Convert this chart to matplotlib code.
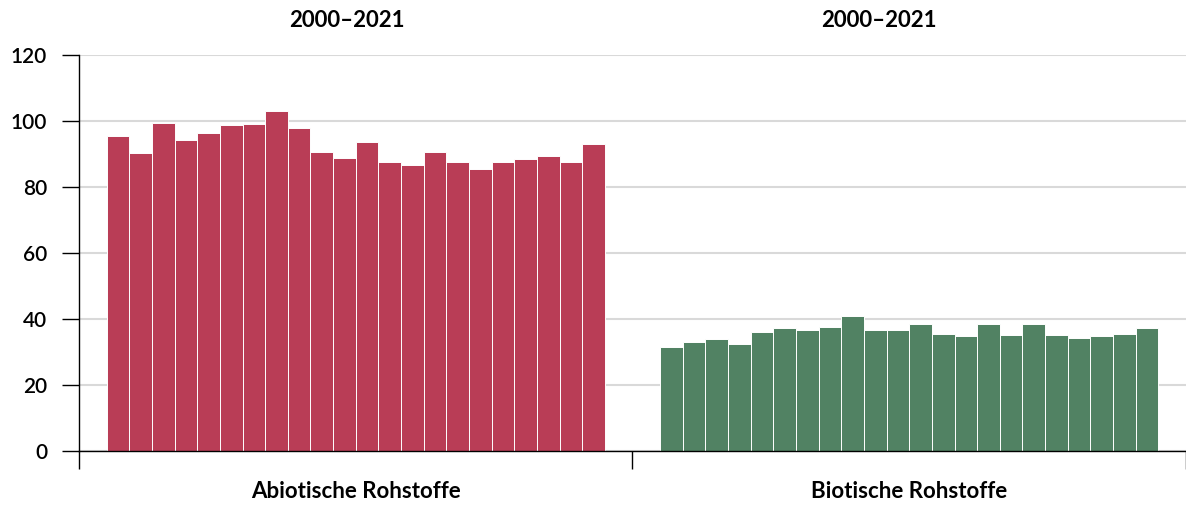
import numpy as np
import matplotlib
matplotlib.use("Agg")
import matplotlib.pyplot as plt

# data (index values, 2000-2021)
years = list(range(2000, 2022))
categories = ["Abiotische Rohstoffe", "Biotische Rohstoffe"]
period_labels = ["2000\u20132021", "2000\u20132021"]
abiotic = [95.5, 90.2, 99.5, 94.4, 96.4, 98.7, 99.1, 103.0, 97.9, 90.5, 88.8,
           93.6, 87.5, 86.7, 90.5, 87.7, 85.5, 87.5, 88.6, 89.3, 87.5, 93.1]
biotic = [31.7, 33.1, 34.1, 32.5, 36.1, 37.2, 36.7, 37.6, 40.9, 36.8, 36.8,
          38.5, 35.5, 34.9, 38.5, 35.1, 38.5, 35.1, 34.3, 34.9, 35.5, 37.4]
colors = ["#b93d56", "#518263"]

plt.rcParams["font.family"] = ["Lato", "DejaVu Sans"]

fig = plt.figure(figsize=(11.86, 5.05), dpi=100)
ax = fig.add_axes([0.0666, 0.1063, 0.9334, 0.7848])

n = len(years)
group_frac = 0.9
w = group_frac / n
for g, vals in enumerate([abiotic, biotic]):
    xs = g + (1 - group_frac) / 2 + (np.arange(n) + 0.5) * w
    ax.bar(xs, vals, width=w, color=colors[g], edgecolor="white",
           linewidth=0.7, zorder=3)

ax.set_xlim(0, 2)
ax.set_ylim(0, 120)
ax.set_yticks(np.arange(0, 121, 20))
ax.yaxis.grid(True, color="#d9d9d9", linewidth=1.5, zorder=0)
ax.set_axisbelow(True)

for s in ["top", "right"]:
    ax.spines[s].set_visible(False)
ax.spines["left"].set_linewidth(1.0)
ax.spines["bottom"].set_linewidth(1.0)
ax.spines["bottom"].set_zorder(4)

ax.tick_params(axis="y", length=12, width=1.0, labelsize=15, pad=11)
for lbl in ax.get_yticklabels():
    lbl.set_fontweight("semibold")
ax.set_xticks([0, 1, 2])
ax.set_xticklabels([])
ax.tick_params(axis="x", length=13, width=1.0)

# category labels below and period labels above
for g, name in enumerate(categories):
    ax.text(g + 0.5, -12.3, name, ha="center", va="center",
            fontsize=16, fontweight="bold", transform=ax.transData)
title_x = [0.484, 1.446]
for tx, lab in zip(title_x, period_labels):
    ax.text(tx, 130.5, lab, ha="center", va="center",
            fontsize=16, fontweight="bold", clip_on=False)

fig.savefig("out.png", dpi=100)
